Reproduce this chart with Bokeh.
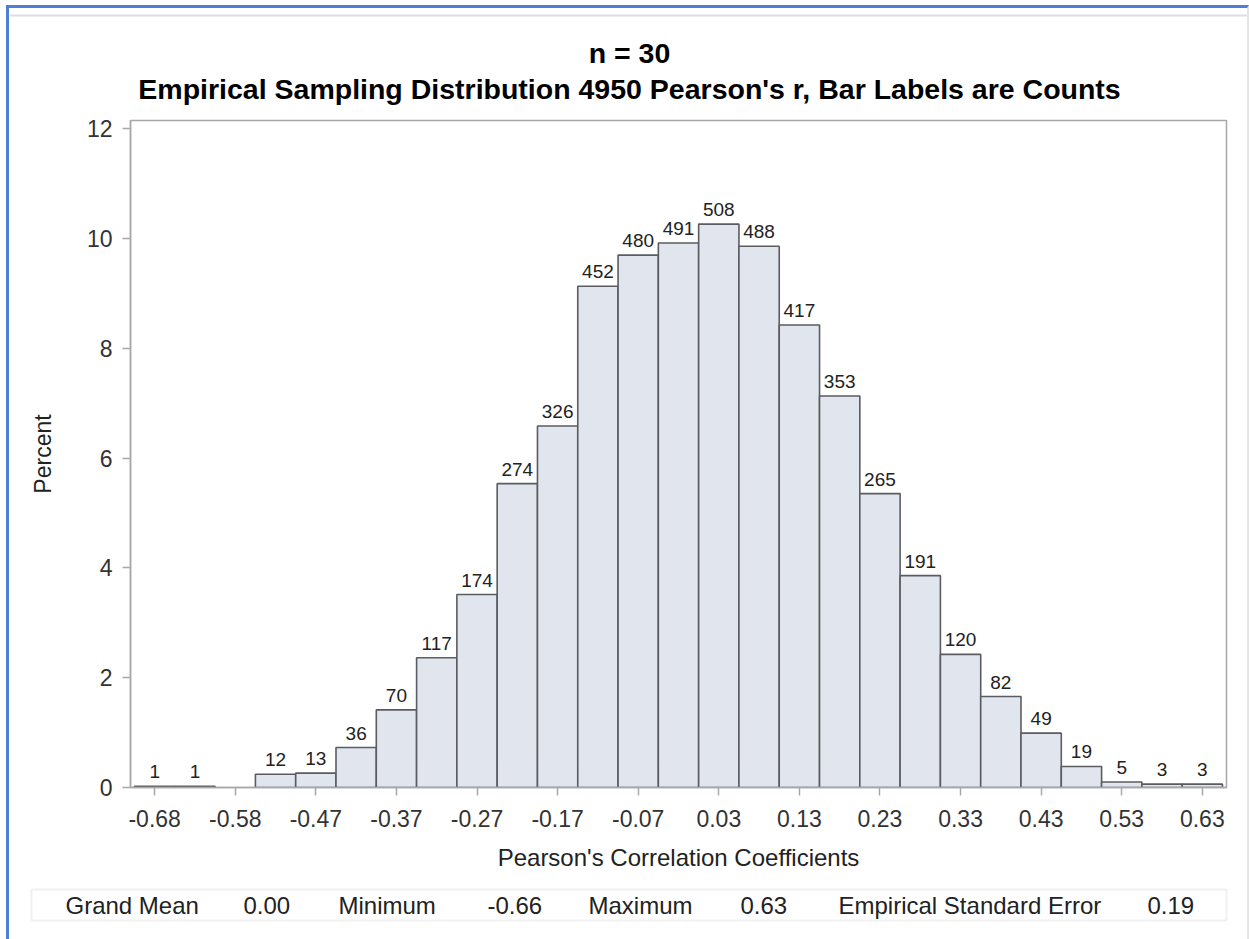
import numpy as np
from bokeh.plotting import figure
from bokeh.layouts import column
from bokeh.models import Range1d, FixedTicker, BoxAnnotation, ColumnDataSource
from bokeh.embed import file_html
from bokeh.resources import INLINE
from bokeh.core.properties import value

# ---------------- data ----------------
counts = [1, 1, 0, 12, 13, 36, 70, 117, 174, 274, 326, 452, 480, 491, 508,
          488, 417, 353, 265, 191, 120, 82, 49, 19, 5, 3, 3]
first_center = -0.676      # midpoint of the first bin
bin_width = 0.0504         # histogram bin width
tick_labels = ["-0.68", "-0.58", "-0.47", "-0.37", "-0.27", "-0.17", "-0.07",
               "0.03", "0.13", "0.23", "0.33", "0.43", "0.53", "0.63"]
y_ticks = [0, 2, 4, 6, 8, 10, 12]
title_lines = ["n = 30",
               "Empirical Sampling Distribution 4950 Pearson's r, Bar Labels are Counts"]
x_label = "Pearson's Correlation Coefficients"
y_label = "Percent"
stat_names = ["Grand Mean", "Minimum", "Maximum", "Empirical Standard Error"]
stat_values = ["0.00", "-0.66", "0.63", "0.19"]

# ---------------- derived ----------------
counts_arr = np.array(counts, dtype=float)
centers = np.round(first_center + bin_width * np.arange(len(counts)), 4)
percent = counts_arr / counts_arr.sum() * 100.0
mask = counts_arr > 0
src = ColumnDataSource(dict(x=centers[mask], top=percent[mask],
                            lab=[str(c) for c in np.array(counts)[mask]]))

FONT = "Liberation Sans"

# ---------------- page geometry (page pixels) ----------------
W, H = 1249, 939
OX, OY = 9, 8                       # inside the blue frame
RIGHT = 1247                        # right page edge line
CW = RIGHT - OX
HEAD_BOTTOM = 105                   # header canvas: OY .. HEAD_BOTTOM
MAIN_BOTTOM = 880                   # main canvas: HEAD_BOTTOM .. MAIN_BOTTOM
FL, FR, FT, FB = 130, 1226, 120, 787   # histogram frame

# ---------------- header (titles) ----------------
hh = HEAD_BOTTOM - OY
head = figure(width=CW, height=hh, output_backend="svg", toolbar_location=None,
              x_range=Range1d(OX, RIGHT), y_range=Range1d(HEAD_BOTTOM, OY),
              min_border=0, x_axis_type=None, y_axis_type=None)
head.frame_align = False
head.outline_line_color = None
head.xgrid.visible = False
head.ygrid.visible = False
head.add_layout(BoxAnnotation(left=OX, right=RIGHT, top=14, bottom=16,
                              fill_color="#dedede", fill_alpha=1, line_color=None))
head.text(x=[629, 629], y=[52, 88], text=title_lines,
          text_align="center", text_baseline="middle", text_font=value(FONT),
          text_font_size="28.5px", text_font_style="bold", text_color="black")

# ---------------- main histogram ----------------
x0 = centers[0] - 0.6 * bin_width
x1 = centers[-1] + 0.6 * bin_width
p = figure(width=CW, height=MAIN_BOTTOM - HEAD_BOTTOM, output_backend="svg",
           toolbar_location=None,
           x_range=Range1d(x0, x1), y_range=Range1d(0, 12.15),
           min_border_left=FL - OX, min_border_right=RIGHT - FR,
           min_border_top=FT - HEAD_BOTTOM, min_border_bottom=MAIN_BOTTOM - FB)
p.frame_align = False
p.background_fill_color = "white"
p.border_fill_color = "white"
p.outline_line_color = "#a8a8a8"
p.outline_line_width = 1.5
p.xgrid.visible = False
p.ygrid.visible = False

p.vbar(x="x", top="top", bottom=0, width=bin_width, source=src,
       fill_color="#e1e6ee", line_color="#5a5c61", line_width=1.6)
p.text(x="x", y="top", text="lab", source=src, text_align="center",
       text_baseline="bottom", y_offset=-8, text_font=value(FONT),
       text_font_size="19px", text_color="#222222")

for ax in (p.xaxis, p.yaxis):
    ax.axis_line_color = "#a8a8a8"
    ax.axis_line_width = 1.5
    ax.major_tick_line_color = "#a8a8a8"
    ax.major_tick_line_width = 1.5
    ax.major_tick_out = 8
    ax.major_tick_in = 0
    ax.minor_tick_line_color = None
    ax.major_label_text_font = FONT
    ax.major_label_text_font_size = "23px"
    ax.major_label_text_color = "#333333"
    ax.axis_label_text_font = FONT
    ax.axis_label_text_font_style = "normal"
    ax.axis_label_text_color = "#222222"

p.xaxis.ticker = FixedTicker(ticks=list(centers[::2]))
p.xaxis.major_label_overrides = {float(c): t for c, t in zip(centers[::2], tick_labels)}
p.xaxis.major_label_standoff = 14
p.xaxis.axis_label = x_label
p.xaxis.axis_label_text_font_size = "24px"
p.xaxis.axis_label_standoff = 14

p.yaxis.ticker = FixedTicker(ticks=y_ticks)
p.yaxis.major_label_standoff = 10
p.yaxis.axis_label = y_label
p.yaxis.axis_label_text_font_size = "23px"
p.yaxis.axis_label_standoff = 28

# ---------------- footer statistics table ----------------
foot = figure(width=CW, height=H - MAIN_BOTTOM, output_backend="svg",
              toolbar_location=None,
              x_range=Range1d(OX, RIGHT), y_range=Range1d(H, MAIN_BOTTOM),
              min_border=0, x_axis_type=None, y_axis_type=None)
foot.frame_align = False
foot.outline_line_color = None
foot.xgrid.visible = False
foot.ygrid.visible = False
foot.add_layout(BoxAnnotation(left=31, right=1226, top=889, bottom=920,
                              fill_color=None, line_color="#cccccc", line_width=2))
name_x = [65, 338, 588, 838]
val_x = [243, 487, 740, 1147]
foot.text(x=name_x + val_x, y=[905] * 8,
          text=stat_names + stat_values, text_align="left",
          text_baseline="middle", text_font=value(FONT),
          text_font_size="24px", text_color="#222222")

layout = column(head, p, foot, spacing=0)
layout.styles = {"margin-left": "6px", "margin-top": "5px",
                 "border-left": "3px solid #4f7fd2", "border-top": "3px solid #4f7fd2",
                 "border-right": "2px solid #e4e4e4"}

open("out.html", "w").write(file_html(layout, INLINE))
